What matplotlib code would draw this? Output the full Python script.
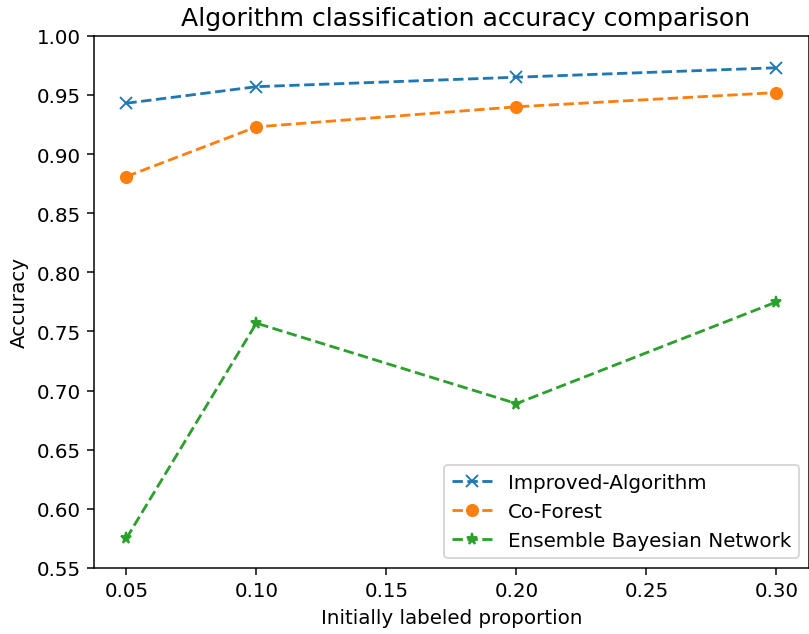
import matplotlib
matplotlib.use("Agg")
import matplotlib.pyplot as plt

# initially labeled proportion
proportion = [0.05, 0.10, 0.20, 0.30]

improved = [0.943, 0.957, 0.965, 0.973]
co_forest = [0.881, 0.923, 0.940, 0.952]
ebn = [0.575, 0.757, 0.689, 0.775]

plt.rcParams["font.size"] = 10.6

fig = plt.figure(figsize=(809 / 135, 635 / 135), dpi=135)
ax = fig.add_axes([0.116, 0.104, 0.884, 0.838])

ax.plot(proportion, improved, "x--", label="Improved-Algorithm")
ax.plot(proportion, co_forest, "o--", label="Co-Forest")
ax.plot(proportion, ebn, "*--", label="Ensemble Bayesian Network")

ax.set_ylim(0.55, 1.0)
ax.set_xticks([0.05, 0.10, 0.15, 0.20, 0.25, 0.30])
ax.set_xlabel("Initially labeled proportion")
ax.set_ylabel("Accuracy")
# original figure was cropped on the right, title sits a bit right of centre
ax.set_title("Algorithm classification accuracy comparison", fontsize=13.4, x=0.52)
ax.legend(loc="lower right")

fig.savefig("out.png", dpi=135)
